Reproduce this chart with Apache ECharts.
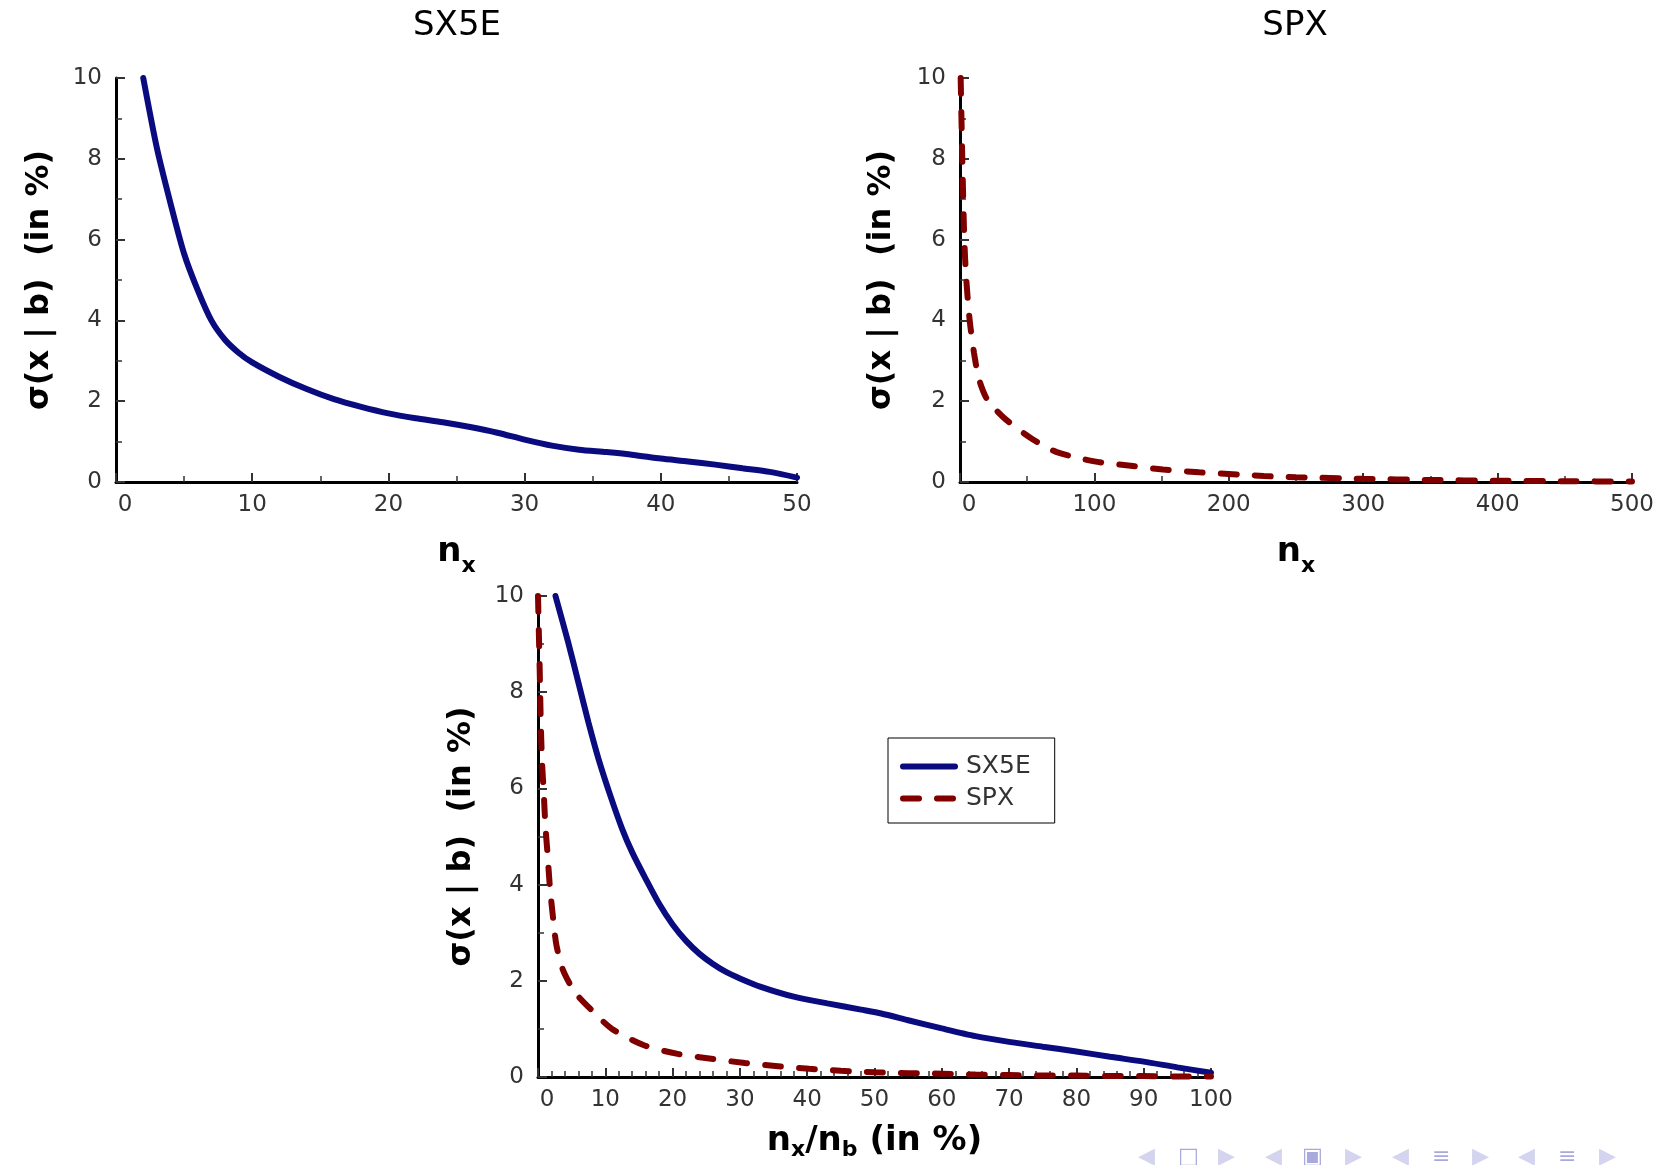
<!DOCTYPE html>
<html>
<head>
<meta charset="utf-8">
<script src="https://cdn.jsdelivr.net/npm/echarts@6/dist/echarts.min.js"></script>
<style>
  html, body { margin: 0; padding: 0; background: #fff; }
  #chart { width: 1670px; height: 1165px; }
</style>
</head>
<body>
<div id="chart"></div>
<script>
// SX5E: sigma(x|b) vs number of stocks n_x
const sx5eN = [2, 3, 4, 5, 6, 7, 8, 9, 10, 12, 14, 16, 18, 20, 22, 24, 26, 28, 30, 32, 34, 36, 38, 40, 42, 44, 46, 48, 50];
const sx5eSigma = [10, 8.27, 6.9, 5.65, 4.75, 4.0, 3.52, 3.2, 2.96, 2.6, 2.3, 2.05, 1.86, 1.7, 1.58, 1.48, 1.36, 1.22, 1.05, 0.9, 0.8, 0.74, 0.67, 0.58, 0.51, 0.43, 0.34, 0.25, 0.11];

// SPX: sigma(x|b) vs n_x
const spxN = [0.5, 1.7, 3.2, 4.7, 7.2, 10.4, 14.1, 20.3, 34, 54, 72, 100, 127, 151, 178, 200, 226, 250, 300, 350, 400, 450, 500];
const spxSigma = [10, 8, 6, 5, 4, 3.2, 2.55, 2.04, 1.55, 1.06, 0.74, 0.51, 0.4, 0.31, 0.24, 0.2, 0.15, 0.12, 0.08, 0.05, 0.03, 0.02, 0.01];

// both indices vs n_x / n_b (in %)
const ratioSx5e = [2.6, 4.5, 6, 7.5, 9, 10.75, 12.5, 14, 16, 18, 20, 22, 24, 26, 28, 30, 33, 38, 43, 48, 51, 55, 60, 65, 70, 75, 80, 85, 90, 95, 100];
const ratioSigmaSx5e = [10, 9.03, 8.2, 7.37, 6.61, 5.85, 5.16, 4.67, 4.12, 3.6, 3.17, 2.83, 2.56, 2.35, 2.18, 2.05, 1.88, 1.67, 1.53, 1.4, 1.32, 1.18, 1.01, 0.85, 0.73, 0.63, 0.53, 0.42, 0.32, 0.2, 0.09];
const ratioSpx = [0, 0.25, 0.4, 0.6, 0.85, 1.1, 1.4, 1.75, 2.25, 2.75, 3.75, 5.5, 7.75, 11, 15.75, 20.75, 25.75, 30.75, 35.3, 40.3, 45, 50, 55, 60, 65, 70, 75, 80, 85, 90, 95, 100];
const ratioSigmaSpx = [10, 8.48, 7.44, 6.54, 5.92, 5.22, 4.67, 3.98, 3.29, 2.73, 2.21, 1.76, 1.42, 1.0, 0.66, 0.48, 0.38, 0.29, 0.23, 0.17, 0.13, 0.1, 0.08, 0.07, 0.05, 0.04, 0.03, 0.03, 0.02, 0.02, 0.01, 0.01];

const yTicks = [0, 10, 2];

const FONT = "'DejaVu Sans', sans-serif";
const BLUE = '#0b0b80';
const RED = '#800000';

function zip(xs, ys) {
    return xs.map(function (x, i) { return [x, ys[i]]; });
}

function xAxis(grid, max, interval, minor, name, gap, subDrop) {
    return {
        type: 'value', gridIndex: grid, min: 0, max: max, interval: interval,
        name: name, nameLocation: 'middle', nameGap: gap,
        nameTextStyle: {
            rich: {
                n: { fontFamily: FONT, fontWeight: 'bold', fontSize: 34, lineHeight: 34, verticalAlign: 'top', color: '#000' },
                s: { fontFamily: FONT, fontWeight: 'bold', fontSize: 22, lineHeight: 22, verticalAlign: 'top', padding: [subDrop, 0, 0, 0], color: '#000' }
            }
        },
        axisLine: { lineStyle: { color: '#000', width: 3 } },
        axisTick: { inside: true, length: 9, lineStyle: { color: '#333', width: 2 } },
        minorTick: { show: true, splitNumber: minor, length: 6, lineStyle: { color: '#333', width: 1.5 } },
        splitLine: { show: false },
        axisLabel: {
            fontFamily: FONT, fontSize: 23, color: '#333', margin: 12,
            formatter: function (v) { return v === 0 ? '{z|0}' : String(v); },
            rich: { z: { fontFamily: FONT, fontSize: 23, color: '#333', padding: [0, 0, 0, 18] } }
        }
    };
}

function yAxis(grid, gap) {
    return {
        type: 'value', gridIndex: grid, min: yTicks[0], max: yTicks[1], interval: yTicks[2],
        name: 'σ(x | b)  (in %)', nameLocation: 'middle', nameGap: gap, nameRotate: 90,
        nameTextStyle: { fontFamily: FONT, fontWeight: 'bold', fontSize: 32, color: '#000' },
        axisLine: { show: true, lineStyle: { color: '#000', width: 3 } },
        axisTick: { show: true, inside: true, length: 9, lineStyle: { color: '#333', width: 2 } },
        minorTick: { show: true, splitNumber: 2, length: 6, lineStyle: { color: '#333', width: 1.5 } },
        splitLine: { show: false },
        axisLabel: { fontFamily: FONT, fontSize: 23, color: '#333', margin: 14 }
    };
}

function line(name, x, y, data, color, dashed) {
    return {
        name: name, type: 'line', xAxisIndex: x, yAxisIndex: y, data: data,
        symbol: 'none', smooth: 0.25,
        lineStyle: { color: color, width: 6, type: dashed ? [16, 18] : 'solid', cap: 'round' },
        itemStyle: { color: color },
        z: 3
    };
}

// beamer navigation symbols, bottom right corner
const navGlyphs = ['◀', '□', '▶', '◀', '▣', '▶', '◀', '≡', '▶', '◀', '≡', '▶'];
const navX = [1148, 1188, 1228, 1275, 1312, 1355, 1402, 1442, 1482, 1528, 1568, 1609];

const chart = echarts.init(document.getElementById('chart'));
chart.setOption({
    backgroundColor: '#fff',
    animation: false,
    title: [
        { text: 'SX5E', left: 457, top: 9, textAlign: 'center', padding: 0,
          textStyle: { fontFamily: FONT, fontWeight: 'normal', fontSize: 34, color: '#000' } },
        { text: 'SPX', left: 1295, top: 9, textAlign: 'center', padding: 0,
          textStyle: { fontFamily: FONT, fontWeight: 'normal', fontSize: 34, color: '#000' } }
    ],
    grid: [
        { left: 116, top: 78, width: 681, height: 404, outerBoundsMode: 'none' },
        { left: 960, top: 78, width: 672, height: 404, outerBoundsMode: 'none' },
        { left: 538, top: 596, width: 673, height: 481, outerBoundsMode: 'none' }
    ],
    xAxis: [
        xAxis(0, 50, 10, 2, '{n|n}{s|x}', 53, 20),
        xAxis(1, 500, 100, 2, '{n|n}{s|x}', 53, 20),
        xAxis(2, 100, 10, 5, '{n|n}{s|x}{n|/n}{s|b}{n| (in %)}', 47, 15)
    ],
    yAxis: [yAxis(0, 60), yAxis(1, 62), yAxis(2, 60)],
    legend: {
        data: ['SX5E', 'SPX'], orient: 'vertical', left: 888, top: 738,
        padding: [16, 24, 12, 12], itemGap: 7, itemWidth: 52, itemHeight: 14,
        borderColor: '#000', borderWidth: 1, backgroundColor: '#fff',
        itemStyle: { opacity: 0 },
        lineStyle: { width: 6, cap: 'round' },
        textStyle: { fontFamily: FONT, fontSize: 25, color: '#333', padding: [0, 0, 0, 6] }
    },
    series: [
        line('SX5E', 0, 0, zip(sx5eN, sx5eSigma), BLUE, false),
        line('SPX', 1, 1, zip(spxN, spxSigma), RED, true),
        line('SX5E', 2, 2, zip(ratioSx5e, ratioSigmaSx5e), BLUE, false),
        line('SPX', 2, 2, zip(ratioSpx, ratioSigmaSpx), RED, true)
    ],
    graphic: navGlyphs.map(function (g, i) {
        return {
            type: 'text', left: navX[i] - 10, top: 1146,
            style: { text: g, fontFamily: FONT, fontSize: 22, fill: (i % 3 === 1) ? '#a9a9dc' : '#d4d4ee' }
        };
    })
});
</script>
</body>
</html>
